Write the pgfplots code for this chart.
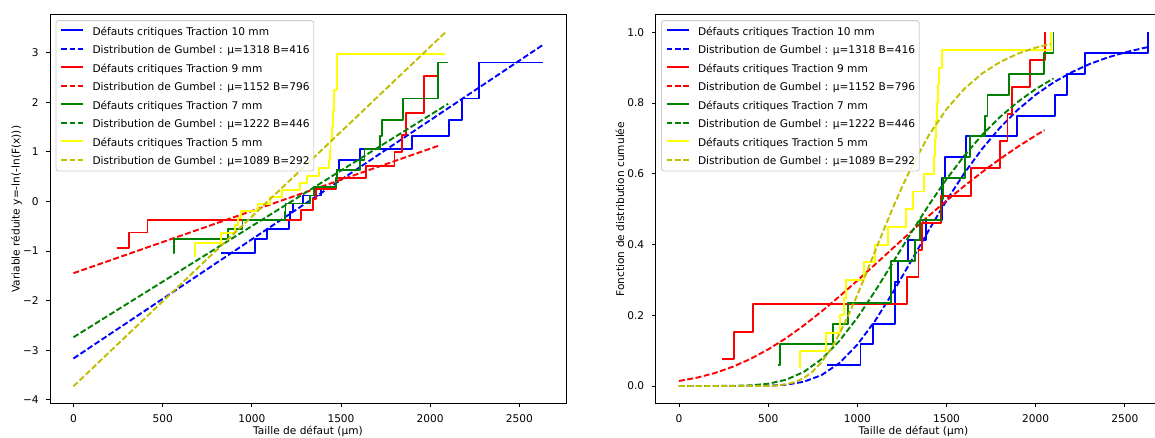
\documentclass[border=0pt]{standalone}
\usepackage{fontspec}
\setmainfont{DejaVu Sans}
\usepackage{pgfplots}
\pgfplotsset{compat=1.18}
\definecolor{mplblue}{rgb}{0,0,1}
\definecolor{mplred}{rgb}{1,0,0}
\definecolor{mplgreen}{rgb}{0,0.5,0}
\definecolor{mplyellow}{rgb}{1,1,0}
\definecolor{mplolive}{rgb}{0.75,0.75,0}
\newcommand{\fs}{\fontsize{10.6}{12.7}\selectfont}
\pgfplotsset{
  mystyle/.style={
    scale only axis, width=516pt, height=389pt,
    xmin=-131.5, xmax=2761.5,
    axis line style={line width=0.85pt},
    every tick/.style={black, line width=0.85pt},
    major tick length=3.7pt,
    tick align=outside,
    xtick pos=bottom, ytick pos=left,
    xtick={0,500,1000,1500,2000,2500},
    xticklabels={0,500,1000,1500,2000,2500},
    ticklabel style={font=\fs, inner sep=0pt},
    xticklabel style={anchor=north, yshift=-7.4pt},
    yticklabel style={anchor=east, xshift=-7.4pt},
    every axis x label/.style={at={(axis description cs:0.5,0)}, anchor=north, yshift=-22.3pt, font=\fs, inner sep=0pt},
    xlabel={Taille de défaut (µm)},
    legend cell align=left,
    legend image code/.code={\path (0pt,-3pt) (22pt,7pt); \draw[##1] (0pt,2pt) -- (22pt,2pt);},
    legend style={at={(axis description cs:0,1)}, anchor=north west, xshift=5.5pt, yshift=-5.5pt,
      draw=black!20, line width=0.85pt, fill=white, fill opacity=0.8, text opacity=1,
      rounded corners=2.5pt, inner xsep=4.2pt, inner ysep=3.5pt, font=\fs,
      row sep=5pt, column sep=8.5pt,
      nodes={inner sep=0pt, text height=8.6pt, text depth=2.6pt}},
  },
  stepline/.style={const plot, line width=1.9pt, line join=round},
  gumbel/.style={line width=1.9pt, dash pattern=on 5.9pt off 2.55pt},
}
\begin{document}
\begin{tikzpicture}[x=1pt,y=1pt]
\begin{axis}[mystyle, at={(50pt,34.3pt)}, anchor=south west,
  ymin=-4.08, ymax=3.768,
  ytick={-4,-3,-2,-1,0,1,2,3},
  yticklabels={−4,−3,−2,−1,0,1,2,3},
  every axis y label/.style={at={(axis description cs:0,0.5)}, rotate=90, anchor=center, yshift=33.4pt, font=\fs, inner sep=0pt},
  ylabel={Variable réduite y=-ln(-ln(F(x)))},
]
\addplot[stepline, mplblue] coordinates {(830,-1.041) (1018,-0.761) (1086,-0.551) (1210,-0.369) (1212,-0.202) (1230,-0.041) (1285,0.120) (1386,0.283) (1473,0.453) (1476,0.634) (1490,0.832) (1607,1.055) (1896,1.316) (2107,1.639) (2178,2.078) (2276,2.803) (2630,2.803)};
\addlegendentry{Défauts critiques Traction 10 mm}
\addplot[gumbel, mplblue] coordinates {(0,-3.168) (2630,3.154)};
\addlegendentry{Distribution de Gumbel : µ=1318 B=416}
\addplot[stepline, mplred] coordinates {(243,-0.942) (311,-0.627) (415,-0.383) (1278,-0.164) (1343,0.046) (1361,0.257) (1470,0.480) (1638,0.723) (1800,1.000) (1842,1.338) (1866,1.789) (1967,2.526) (2050,2.526)};
\addlegendentry{Défauts critiques Traction 9 mm}
\addplot[gumbel, mplred] coordinates {(0,-1.447) (2050,1.128)};
\addlegendentry{Distribution de Gumbel : µ=1152 B=796}
\addplot[stepline, mplgreen] coordinates {(558,-1.041) (566,-0.761) (866,-0.551) (948,-0.369) (1187,-0.202) (1189,-0.041) (1325,0.120) (1350,0.283) (1472,0.453) (1478,0.634) (1604,0.832) (1632,1.055) (1718,1.316) (1730,1.639) (1850,2.078) (2045,2.803) (2100,2.803)};
\addlegendentry{Défauts critiques Traction 7 mm}
\addplot[gumbel, mplgreen] coordinates {(0,-2.740) (2100,1.969)};
\addlegendentry{Distribution de Gumbel : µ=1222 B=446}
\addplot[stepline, mplyellow] coordinates {(678,-1.097) (680,-0.834) (825,-0.640) (905,-0.476) (925,-0.327) (938,-0.186) (1037,-0.049) (1100,0.087) (1170,0.225) (1271,0.367) (1311,0.514) (1375,0.672) (1432,0.842) (1436,1.031) (1441,1.246) (1448,1.500) (1454,1.817) (1459,2.250) (1476,2.970) (2085,2.970)};
\addlegendentry{Défauts critiques Traction 5 mm}
\addplot[gumbel, mplolive] coordinates {(0,-3.729) (2085,3.411)};
\addlegendentry{Distribution de Gumbel : µ=1089 B=292}
\end{axis}
\begin{axis}[mystyle, at={(655.5pt,34.3pt)}, anchor=south west,
  ymin=-0.05, ymax=1.05,
  ytick={0,0.2,0.4,0.6,0.8,1.0},
  yticklabels={0.0,0.2,0.4,0.6,0.8,1.0},
  every axis y label/.style={at={(axis description cs:0,0.5)}, rotate=90, anchor=center, yshift=35.5pt, font=\fs, inner sep=0pt},
  ylabel={Fonction de distribution cumulée},
]
\addplot[stepline, mplblue] coordinates {(830,0.0588) (1018,0.1176) (1086,0.1765) (1210,0.2353) (1212,0.2941) (1230,0.3529) (1285,0.4118) (1386,0.4706) (1473,0.5294) (1476,0.5882) (1490,0.6471) (1607,0.7059) (1896,0.7647) (2107,0.8235) (2178,0.8824) (2276,0.9412) (2630,1.0)};
\addlegendentry{Défauts critiques Traction 10 mm}
\addplot[gumbel, mplblue] coordinates {(0,0) (100,0) (200,0) (300,0.00001) (400,0.0001) (500,0.0008) (600,0.0036) (700,0.0120) (800,0.0310) (900,0.0651) (1000,0.1168) (1100,0.1847) (1200,0.2650) (1300,0.3520) (1400,0.4399) (1500,0.5244) (1600,0.6019) (1700,0.6708) (1800,0.7306) (1900,0.7813) (2000,0.8236) (2100,0.8585) (2200,0.8869) (2300,0.9100) (2400,0.9285) (2500,0.9433) (2600,0.9552) (2630,0.9582)};
\addlegendentry{Distribution de Gumbel : µ=1318 B=416}
\addplot[stepline, mplred] coordinates {(243,0.0769) (311,0.1538) (415,0.2308) (1278,0.3077) (1343,0.3846) (1361,0.4615) (1470,0.5385) (1638,0.6154) (1800,0.6923) (1842,0.7692) (1866,0.8462) (1967,0.9231) (2050,1.0)};
\addlegendentry{Défauts critiques Traction 9 mm}
\addplot[gumbel, mplred] coordinates {(0,0.0143) (100,0.0235) (200,0.0366) (300,0.0541) (400,0.0764) (500,0.1035) (600,0.1352) (700,0.1713) (800,0.2110) (900,0.2535) (1000,0.2981) (1100,0.3439) (1200,0.3900) (1300,0.4359) (1400,0.4808) (1500,0.5242) (1600,0.5657) (1700,0.6051) (1800,0.6421) (1900,0.6766) (2000,0.7085) (2050,0.7236)};
\addlegendentry{Distribution de Gumbel : µ=1152 B=796}
\addplot[stepline, mplgreen] coordinates {(558,0.0588) (566,0.1176) (866,0.1765) (948,0.2353) (1187,0.2941) (1189,0.3529) (1325,0.4118) (1350,0.4706) (1472,0.5294) (1478,0.5882) (1604,0.6471) (1632,0.7059) (1718,0.7647) (1730,0.8235) (1850,0.8824) (2045,0.9412) (2100,1.0)};
\addlegendentry{Défauts critiques Traction 7 mm}
\addplot[gumbel, mplgreen] coordinates {(0,0) (100,0) (200,0.0001) (300,0.0004) (400,0.0018) (500,0.0064) (600,0.0177) (700,0.0398) (800,0.0761) (900,0.1277) (1000,0.1930) (1100,0.2686) (1200,0.3497) (1300,0.4319) (1400,0.5112) (1500,0.5850) (1600,0.6515) (1700,0.7101) (1800,0.7606) (1900,0.8036) (2000,0.8397) (2100,0.8697)};
\addlegendentry{Distribution de Gumbel : µ=1222 B=446}
\addplot[stepline, mplyellow] coordinates {(678,0.05) (680,0.10) (825,0.15) (905,0.20) (925,0.25) (938,0.30) (1037,0.35) (1100,0.40) (1170,0.45) (1271,0.50) (1311,0.55) (1375,0.60) (1432,0.65) (1436,0.70) (1441,0.75) (1448,0.80) (1454,0.85) (1459,0.90) (1476,0.95) (2085,1.0)};
\addlegendentry{Défauts critiques Traction 5 mm}
\addplot[gumbel, mplolive] coordinates {(0,0) (200,0) (300,0) (400,0) (500,0.0005) (550,0.0018) (600,0.0048) (650,0.0111) (700,0.0226) (750,0.0411) (800,0.0679) (850,0.1036) (900,0.1480) (950,0.2000) (1000,0.2576) (1050,0.3189) (1100,0.3817) (1150,0.4442) (1200,0.5047) (1250,0.5620) (1300,0.6154) (1400,0.7084) (1500,0.7830) (1600,0.8405) (1700,0.8839) (1800,0.9161) (1900,0.9397) (2000,0.9568) (2085,0.9675)};
\addlegendentry{Distribution de Gumbel : µ=1089 B=292}
\end{axis}
\pgfresetboundingbox
\useasboundingbox (0pt,0pt) rectangle (1155pt,438pt);
\end{tikzpicture}
\end{document}
